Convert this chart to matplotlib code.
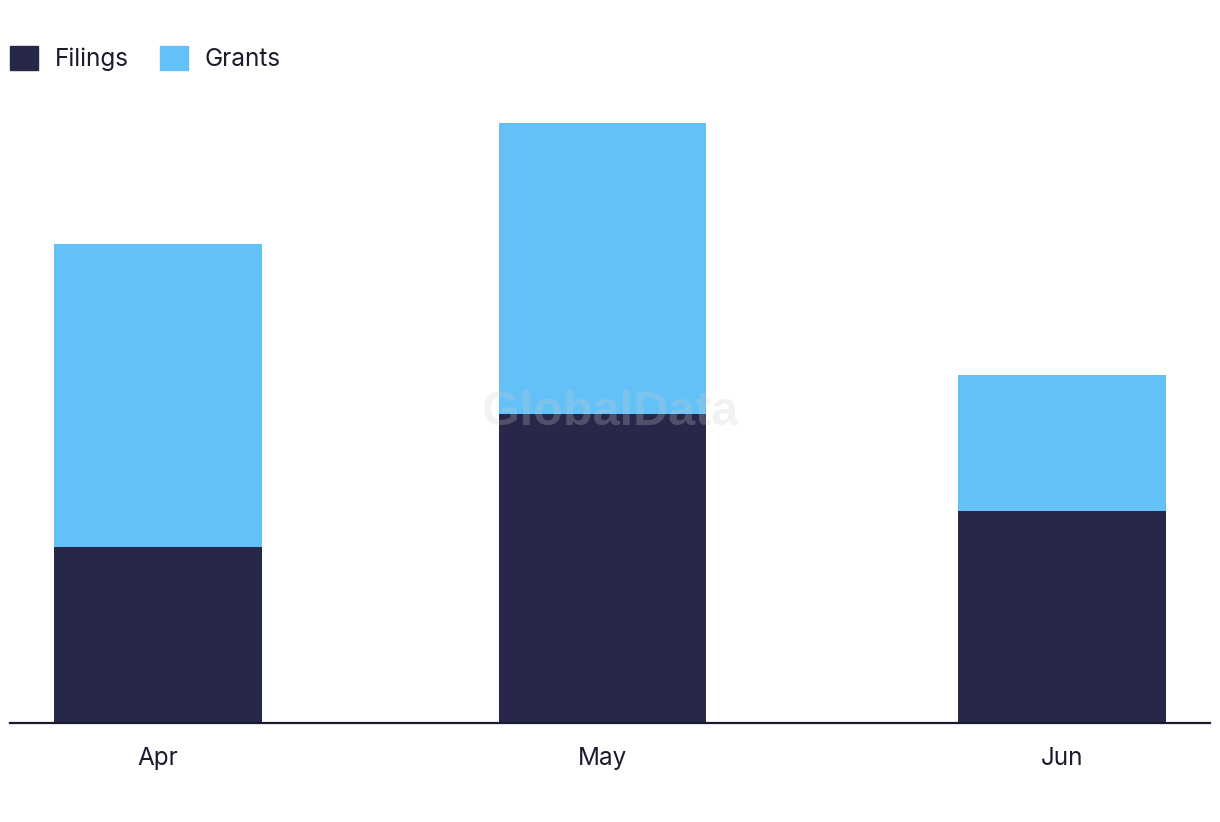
import datetime as dt
import matplotlib
matplotlib.use("Agg")
import matplotlib.pyplot as plt
from matplotlib.patches import Patch

# data
months = [dt.date(2024, 4, 1), dt.date(2024, 5, 1), dt.date(2024, 6, 1)]
month_labels = ["Apr", "May", "Jun"]
filings = [29, 51, 35]
grants = [50, 48, 22.5]

dark = "#272849"
light = "#63C1F8"
text_col = "#1b1b2f"

plt.rcParams["font.family"] = ["Inter", "DejaVu Sans"]

fig = plt.figure(figsize=(12.2, 8.22), dpi=100)
ax = fig.add_axes([10 / 1220, (822 - 723) / 822, 1200 / 1220, 623 / 822])

bar_w = 14.0  # days
ax.bar(months, filings, width=bar_w, color=dark, zorder=2)
ax.bar(months, grants, width=bar_w, bottom=filings, color=light, zorder=2)

ax.set_xlim(months[0] - dt.timedelta(days=10.45), months[-1] + dt.timedelta(days=10.35))
ax.set_ylim(0, 102.8)

ax.set_xticks(months)
ax.set_xticklabels(month_labels)
ax.tick_params(axis="x", length=0, pad=17, labelsize=17.5, labelcolor=text_col)
ax.set_yticks([])
for s in ["top", "right", "left"]:
    ax.spines[s].set_visible(False)
ax.spines["bottom"].set_color(text_col)
ax.spines["bottom"].set_linewidth(1.6)
ax.spines["bottom"].set_zorder(3)

# watermark
fig.text(610 / 1220, 1 - 412 / 822, "GlobalData", ha="center", va="center",
         fontsize=35, fontweight="bold", color="#cccccc", alpha=0.25, zorder=5,
         family=["Liberation Sans", "DejaVu Sans"])

handles = [Patch(color=dark, label="Filings"), Patch(color=light, label="Grants")]
fig.legend(handles=handles, loc="upper left", bbox_to_anchor=(10 / 1220, 1 - 46 / 822),
           ncol=2, frameon=False, fontsize=17.5, handlelength=1.15, handleheight=1.15,
           handletextpad=0.68, columnspacing=1.3, borderpad=0, borderaxespad=0,
           labelcolor=text_col)

fig.savefig("out.png", dpi=100, facecolor="white")
